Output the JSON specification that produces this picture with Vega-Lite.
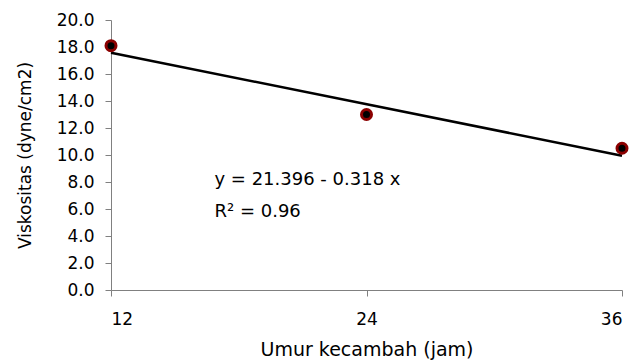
{
  "$schema": "https://vega.github.io/schema/vega-lite/v6.json",
  "width": 511,
  "height": 270,
  "autosize": {"type": "none"},
  "padding": {"left": 111, "top": 20, "right": 13, "bottom": 74},
  "background": "white",
  "config": {
    "view": {"stroke": null},
    "font": "DejaVu Sans",
    "axis": {
      "grid": false,
      "domainColor": "#808080",
      "tickColor": "#808080",
      "domainWidth": 1,
      "tickWidth": 1,
      "tickSize": 6,
      "labelColor": "black",
      "titleColor": "black",
      "labelFont": "DejaVu Sans",
      "titleFont": "DejaVu Sans",
      "titleFontWeight": "normal"
    }
  },
  "datasets": {
    "obs": [
      {"umur": 12, "viskositas": 18.1},
      {"umur": 24, "viskositas": 13.0},
      {"umur": 36, "viskositas": 10.5}
    ],
    "fit": [
      {"umur": 12, "viskositas": 17.58},
      {"umur": 36, "viskositas": 9.948}
    ],
    "notes": [
      {"umur": 16.86, "viskositas": 7.78, "teks": "y = 21.396 - 0.318 x"},
      {"umur": 16.86, "viskositas": 5.43, "teks": "R² = 0.96"}
    ]
  },
  "encoding": {
    "x": {
      "field": "umur",
      "type": "quantitative",
      "scale": {"domain": [12, 36], "nice": false, "zero": false},
      "axis": {
        "values": [12, 24, 36],
        "title": "Umur kecambah (jam)",
        "labelFontSize": 17,
        "labelPadding": 15,
        "labelOverlap": false,
        "titleFontSize": 19,
        "titlePadding": 13
      }
    },
    "y": {
      "field": "viskositas",
      "type": "quantitative",
      "scale": {"domain": [0, 20], "nice": false},
      "axis": {
        "values": [0, 2, 4, 6, 8, 10, 12, 14, 16, 18, 20],
        "format": ".1f",
        "title": "Viskositas (dyne/cm2)",
        "labelFontSize": 17,
        "labelPadding": 11,
        "labelOverlap": false,
        "labelSeparation": 0,
        "labelBound": false,
        "titleFontSize": 17,
        "titlePadding": 22
      }
    }
  },
  "layer": [
    {
      "data": {"name": "fit"},
      "mark": {"type": "line", "color": "black", "strokeWidth": 2.5, "clip": false}
    },
    {
      "data": {"name": "obs"},
      "mark": {"type": "point", "filled": true, "fill": "black", "stroke": "#8b0000", "strokeWidth": 3, "opacity": 1, "size": 100, "clip": false}
    },
    {
      "data": {"name": "notes"},
      "mark": {"type": "text", "align": "left", "baseline": "alphabetic", "fontSize": 18, "color": "black", "font": "DejaVu Sans"},
      "encoding": {
        "text": {"field": "teks"}
      }
    }
  ]
}
